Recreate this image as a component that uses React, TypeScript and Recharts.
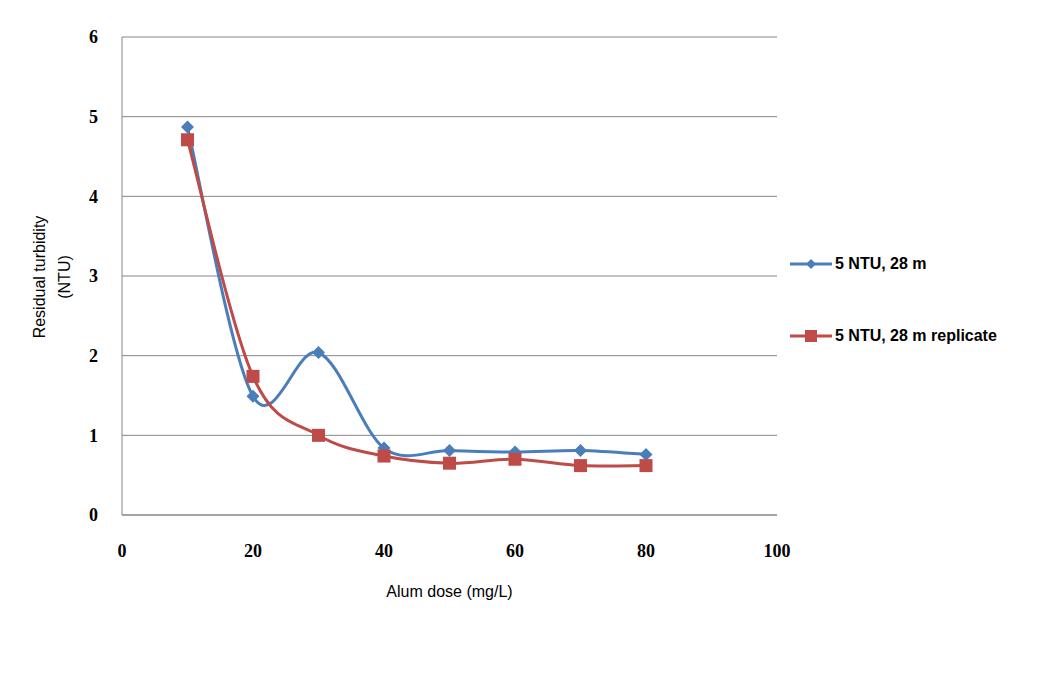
import { CartesianGrid, Line, LineChart, XAxis, YAxis } from "recharts";

const doses = [10, 20, 30, 40, 50, 60, 70, 80];
const firstRun = [4.87, 1.49, 2.04, 0.84, 0.81, 0.79, 0.81, 0.76];
const replicate = [4.71, 1.74, 1.0, 0.74, 0.65, 0.7, 0.62, 0.62];
const xTicks = [0, 20, 40, 60, 80, 100];
const yTicks = [0, 1, 2, 3, 4, 5, 6];
const seriesNames = ["5 NTU, 28 m", "5 NTU, 28 m replicate"];

const BLUE = "#4A7EBB";
const RED = "#BE4B48";
const GRID = "#868686";

const data = doses.map((dose, i) => ({ dose, a: firstRun[i], b: replicate[i] }));

// Excel-style smoothed line (uniform Catmull-Rom as cubic Bezier)
function smoothCurve(context: any) {
  let pts: number[][] = [];
  return {
    areaStart() {},
    areaEnd() {},
    lineStart() {
      pts = [];
    },
    point(x: number, y: number) {
      pts.push([+x, +y]);
    },
    lineEnd() {
      if (!pts.length) return;
      context.moveTo(pts[0][0], pts[0][1]);
      for (let i = 0; i < pts.length - 1; i++) {
        const p0 = pts[i - 1] || pts[i];
        const p1 = pts[i];
        const p2 = pts[i + 1];
        const p3 = pts[i + 2] || p2;
        context.bezierCurveTo(
          p1[0] + (p2[0] - p0[0]) / 6,
          p1[1] + (p2[1] - p0[1]) / 6,
          p2[0] - (p3[0] - p1[0]) / 6,
          p2[1] - (p3[1] - p1[1]) / 6,
          p2[0],
          p2[1]
        );
      }
    },
  };
}

const Diamond = (props: any) => {
  const { cx, cy } = props;
  if (cx == null || cy == null) return null;
  const r = 6.5;
  return <path d={`M${cx},${cy - r}L${cx + r},${cy}L${cx},${cy + r}L${cx - r},${cy}Z`} fill={BLUE} />;
};

const Square = (props: any) => {
  const { cx, cy } = props;
  if (cx == null || cy == null) return null;
  const s = 13;
  return <rect x={cx - s / 2} y={cy - s / 2} width={s} height={s} fill={RED} />;
};

const tickFont = { fontFamily: "Liberation Serif", fontWeight: 700, fontSize: 18, fill: "#000" };

const YTitle = () => (
  <text
    transform="translate(45,277) rotate(-90)"
    textAnchor="middle"
    fontFamily="Liberation Sans"
    fontSize={16}
    fill="#000"
  >
    <tspan x={0} dy={0}>Residual turbidity</tspan>
    <tspan x={0} dy={25}>(NTU)</tspan>
  </text>
);

const LegendBox = () => (
  <div
    style={{
      position: "absolute",
      left: 789,
      top: 254,
      fontFamily: "Liberation Sans",
      fontWeight: 700,
      fontSize: 16,
      color: "#000",
    }}
  >
    {seriesNames.map((label, i) => {
      const color = i ? RED : BLUE;
      return (
        <div key={label} style={{ display: "flex", alignItems: "center", height: 20, marginTop: i ? 52 : 0 }}>
          <svg width={44} height={16}>
            <line x1={1} y1={8} x2={43} y2={8} stroke={color} strokeWidth={3} />
            {i ? (
              <rect x={16} y={2} width={12} height={12} fill={color} />
            ) : (
              <path d="M22,3L27,8L22,13L17,8Z" fill={color} />
            )}
          </svg>
          <span style={{ marginLeft: 2 }}>{label}</span>
        </div>
      );
    })}
  </div>
);

export default function App() {
  return (
    <div style={{ position: "absolute", left: 0, top: 0, width: 1052, height: 677, background: "#fff" }}>
      <LineChart width={1052} height={677} data={data} margin={{ top: 37, right: 275, bottom: 0, left: 0 }}>
        <CartesianGrid vertical={false} stroke={GRID} strokeWidth={1} />
        <XAxis
          dataKey="dose"
          type="number"
          domain={[0, 100]}
          ticks={xTicks}
          height={162}
          stroke={GRID}
          tickLine={false}
          tickMargin={23}
          tick={tickFont}
          label={{
            value: "Alum dose (mg/L)",
            position: "insideTop",
            dy: 66,
            style: { fontFamily: "Liberation Sans", fontSize: 16, fill: "#000" },
          }}
        />
        <YAxis
          type="number"
          domain={[0, 6]}
          ticks={yTicks}
          width={122}
          stroke={GRID}
          tickLine={false}
          tickMargin={18}
          tick={tickFont}
          label={<YTitle />}
        />
        <Line
          dataKey="a"
          name={seriesNames[0]}
          type={smoothCurve as any}
          stroke={BLUE}
          strokeWidth={3}
          dot={<Diamond />}
          activeDot={false}
          isAnimationActive={false}
        />
        <Line
          dataKey="b"
          name={seriesNames[1]}
          type={smoothCurve as any}
          stroke={RED}
          strokeWidth={3}
          dot={<Square />}
          activeDot={false}
          isAnimationActive={false}
        />
      </LineChart>
      <LegendBox />
    </div>
  );
}
